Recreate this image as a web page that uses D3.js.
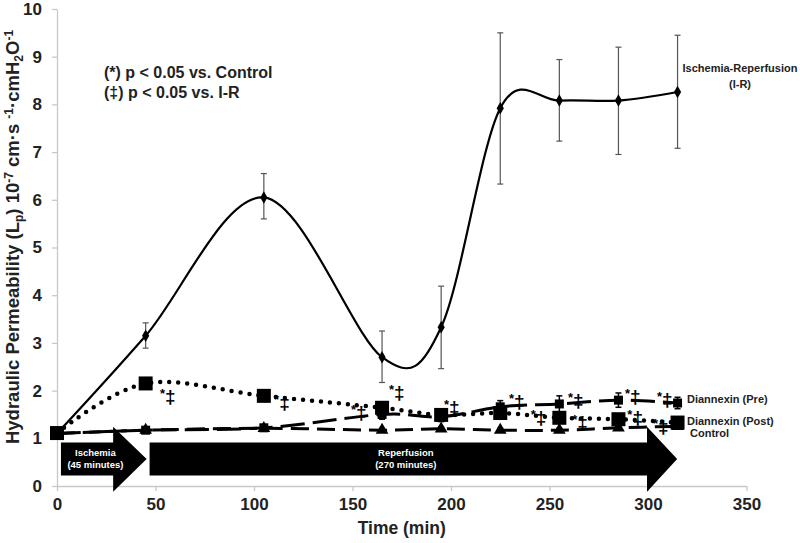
<!DOCTYPE html>
<html><head><meta charset="utf-8">
<script src="https://cdn.jsdelivr.net/npm/d3@7"></script>
<style>
html,body{margin:0;padding:0;background:#fff;}
svg{display:block;font-family:"Liberation Sans",Arial,sans-serif;}
</style></head>
<body>
<svg id="chart" width="800" height="543"></svg>
<script>
// ---------- data ----------
const times = [0, 45, 105, 165, 195, 225, 255, 285, 315];
const irValues   = [1.10, 3.15, 6.05, 2.70, 3.33, 7.92, 8.08, 8.08, 8.26];
const irHigh     = [null, 3.42, 6.55, 3.25, 4.19, 9.50, 8.94, 9.20, 9.45];
const irLow      = [null, 2.89, 5.60, 2.17, 2.46, 6.33, 7.23, 6.95, 7.08];
const postValues = [1.11, 2.15, 1.89, 1.64, 1.49, 1.53, 1.43, 1.40, 1.33];
const postErr    = [0, 0, 0, 0.08, 0.08, 0.10, 0.10, 0.10, 0.08];
const preValues  = [1.10, 1.17, 1.22, 1.50, 1.45, 1.66, 1.72, 1.80, 1.74];
const preErr     = [0, 0.03, 0.03, 0.10, 0.10, 0.13, 0.17, 0.15, 0.12];
const ctrlValues = [1.10, 1.17, 1.21, 1.17, 1.20, 1.17, 1.17, 1.22, 1.25];
const ctrlErr    = [0, 0.03, 0.03, 0.04, 0.04, 0.04, 0.04, 0.04, 0.04];
const xTicks = [0, 50, 100, 150, 200, 250, 300, 350];
const yTicks = [0, 1, 2, 3, 4, 5, 6, 7, 8, 9, 10];
// significance marks: time, value
const sigTimes  = [52.3, 110.2, 149.2, 168.5, 196.4, 229.4, 240.5, 259.4, 261.5, 288.3, 289.5, 304.6, 302.5];
const sigValues = [1.97, 1.84, 1.64, 2.05, 1.74, 1.86, 1.52, 1.88, 1.42, 1.97, 1.52, 1.90, 1.34];
// phase arrows (time units)
const phaseLabels = ["Ischemia", "Reperfusion"];
const phaseSubs   = ["(45 minutes)", "(270 minutes)"];
const phaseStart  = [2, 47];
const phaseHead   = [28.5, 299.5];
const phaseEnd    = [45.5, 314.8];

// ---------- layout ----------
const svg = d3.select("#chart");
const x = d3.scaleLinear().domain([0, 350]).range([57, 746.5]);
const y = d3.scaleLinear().domain([0, 10]).range([486, 9]);
const axisColor = "#c8c8c8";

// axes
const gx = svg.append("g").attr("transform", `translate(0,${y(0)})`)
  .call(d3.axisBottom(x).tickValues(xTicks).tickSize(5).tickPadding(7).tickSizeOuter(0));
const gy = svg.append("g").attr("transform", `translate(${x(0)},0)`)
  .call(d3.axisLeft(y).tickValues(yTicks).tickSize(5).tickPadding(10).tickSizeOuter(0));
[gx, gy].forEach(g => {
  g.select(".domain").attr("stroke", axisColor).attr("stroke-width", 1.3);
  g.selectAll(".tick line").attr("stroke", axisColor).attr("stroke-width", 1.3);
  g.selectAll(".tick text").attr("font-family", "Liberation Sans, Arial, sans-serif")
    .attr("font-size", 17).attr("font-weight", "bold").attr("fill", "#222");
});

// axis titles
svg.append("text").attr("x", x(175)).attr("y", 534).attr("text-anchor", "middle")
  .attr("font-size", 17.5).attr("font-weight", "bold").attr("fill", "#222").text("Time (min)");
const yt = svg.append("text").attr("transform", "translate(19,237) rotate(-90)")
  .attr("text-anchor", "middle").attr("font-size", 18.5).attr("font-weight", "bold").attr("fill", "#222");
yt.append("tspan").text("Hydraulic Permeability (L");
yt.append("tspan").attr("font-size", 12).attr("dy", 4).text("p");
yt.append("tspan").attr("dy", -4).text(") 10");
yt.append("tspan").attr("font-size", 12).attr("dy", -6).text("-7");
yt.append("tspan").attr("dy", 6).text(" cm·s ");
yt.append("tspan").attr("font-size", 12).attr("dy", -6).text("-1");
yt.append("tspan").attr("dy", 6).text("·cmH");
yt.append("tspan").attr("font-size", 12).attr("dy", 4).text("2");
yt.append("tspan").attr("dy", -4).text("O");
yt.append("tspan").attr("font-size", 12).attr("dy", -6).text("-1");

// phase arrows
const bodyLo = 0.22, bodyHi = 0.91, headLo = -0.12, headHi = 1.24;
phaseLabels.forEach((lab, i) => {
  const pts = [
    [x(phaseStart[i]), y(bodyHi)], [x(phaseHead[i]), y(bodyHi)], [x(phaseHead[i]), y(headHi)],
    [x(phaseEnd[i]), y((bodyLo + bodyHi) / 2)],
    [x(phaseHead[i]), y(headLo)], [x(phaseHead[i]), y(bodyLo)], [x(phaseStart[i]), y(bodyLo)]
  ];
  svg.append("path").attr("d", d3.line()(pts) + "Z").attr("fill", "#000");
  const cx = (x(phaseStart[i]) + (x(phaseHead[i]) + x(phaseEnd[i])) / 2) / 2;
  svg.append("text").attr("x", cx).attr("y", y((bodyLo + bodyHi) / 2) - 3).attr("text-anchor", "middle")
    .attr("font-size", 9.5).attr("font-weight", "bold").attr("fill", "#fff").text(lab);
  svg.append("text").attr("x", cx).attr("y", y((bodyLo + bodyHi) / 2) + 9).attr("text-anchor", "middle")
    .attr("font-size", 9.5).attr("font-weight", "bold").attr("fill", "#fff").text(phaseSubs[i]);
});

const curve = d3.curveCardinal.tension(0);
const mk = vals => times.map((t, i) => [x(t), y(vals[i])]);

function errorBars(lo, hi, color, w) {
  times.forEach((t, i) => {
    if (lo[i] == null || hi[i] == null || hi[i] - lo[i] < 0.01) return;
    const g = svg.append("g").attr("stroke", color).attr("stroke-width", w);
    g.append("line").attr("x1", x(t)).attr("x2", x(t)).attr("y1", y(lo[i])).attr("y2", y(hi[i]));
    g.append("line").attr("x1", x(t) - 3).attr("x2", x(t) + 3).attr("y1", y(lo[i])).attr("y2", y(lo[i]));
    g.append("line").attr("x1", x(t) - 3).attr("x2", x(t) + 3).attr("y1", y(hi[i])).attr("y2", y(hi[i]));
  });
}

// Control (triangles, dashed)
errorBars(ctrlValues.map((v, i) => v - ctrlErr[i]), ctrlValues.map((v, i) => v + ctrlErr[i]), "#000", 1.5);
svg.append("path").attr("d", d3.line().curve(curve)(mk(ctrlValues)))
  .attr("fill", "none").attr("stroke", "#000").attr("stroke-width", 3).attr("stroke-dasharray", "18 8");
svg.append("g").selectAll("path").data(times).join("path")
  .attr("transform", (t, i) => `translate(${x(t)},${y(ctrlValues[i])})`)
  .attr("d", d3.symbol(d3.symbolTriangle, 70)).attr("fill", "#000");

// Diannexin (Pre) (small squares, long dash)
errorBars(preValues.map((v, i) => v - preErr[i]), preValues.map((v, i) => v + preErr[i]), "#000", 1.5);
svg.append("path").attr("d", d3.line().curve(curve)(mk(preValues)))
  .attr("fill", "none").attr("stroke", "#000").attr("stroke-width", 3).attr("stroke-dasharray", "24 8");
svg.append("g").selectAll("rect").data(times).join("rect")
  .attr("x", t => x(t) - 4.5).attr("y", (t, i) => y(preValues[i]) - 4.5)
  .attr("width", 9).attr("height", 9).attr("fill", "#000");

// Diannexin (Post) (big squares, dotted)
errorBars(postValues.map((v, i) => v - postErr[i]), postValues.map((v, i) => v + postErr[i]), "#000", 1.5);
svg.append("path").attr("d", d3.line().curve(curve)(mk(postValues)))
  .attr("fill", "none").attr("stroke", "#000").attr("stroke-width", 4.5)
  .attr("stroke-linecap", "round").attr("stroke-dasharray", "0 9");
svg.append("g").selectAll("rect").data(times).join("rect")
  .attr("x", t => x(t) - 7).attr("y", (t, i) => y(postValues[i]) - 7)
  .attr("width", 14).attr("height", 14).attr("fill", "#000");

// I-R (solid, diamonds)
errorBars(irLow, irHigh, "#555", 1.2);
svg.append("path").attr("d", d3.line().curve(curve)(mk(irValues)))
  .attr("fill", "none").attr("stroke", "#000").attr("stroke-width", 2.2);
svg.append("g").selectAll("path").data(times).join("path")
  .attr("transform", (t, i) => `translate(${x(t)},${y(irValues[i])})`)
  .attr("d", d3.symbol(d3.symbolDiamond, 45)).attr("fill", "#000");

// significance marks
sigTimes.forEach((t, i) => {
  const tx = svg.append("text").attr("x", x(t)).attr("y", y(sigValues[i]) + 6)
    .attr("font-weight", "bold").attr("fill", "#000");
  tx.append("tspan").attr("font-size", 13).text("*");
  tx.append("tspan").attr("font-size", 19).attr("dy", 5).text("‡");
});

// series labels
svg.append("text").attr("x", 740).attr("y", 72).attr("text-anchor", "middle")
  .attr("font-size", 11).attr("font-weight", "bold").attr("fill", "#222").text("Ischemia-Reperfusion");
svg.append("text").attr("x", 740).attr("y", 88).attr("text-anchor", "middle")
  .attr("font-size", 11).attr("font-weight", "bold").attr("fill", "#222").text("(I-R)");
svg.append("text").attr("x", 687).attr("y", 403).attr("font-size", 11).attr("font-weight", "bold")
  .attr("fill", "#222").text("Diannexin (Pre)");
svg.append("text").attr("x", 687).attr("y", 425).attr("font-size", 11).attr("font-weight", "bold")
  .attr("fill", "#222").text("Diannexin (Post)");
svg.append("text").attr("x", 690).attr("y", 437).attr("font-size", 11).attr("font-weight", "bold")
  .attr("fill", "#222").text("Control");

// significance legend
svg.append("text").attr("x", 104).attr("y", 78).attr("font-size", 16).attr("font-weight", "bold")
  .attr("fill", "#222").text("(*) p < 0.05 vs. Control");
svg.append("text").attr("x", 104).attr("y", 98).attr("font-size", 16).attr("font-weight", "bold")
  .attr("fill", "#222").text("(‡) p < 0.05 vs. I-R");
</script>
</body></html>
